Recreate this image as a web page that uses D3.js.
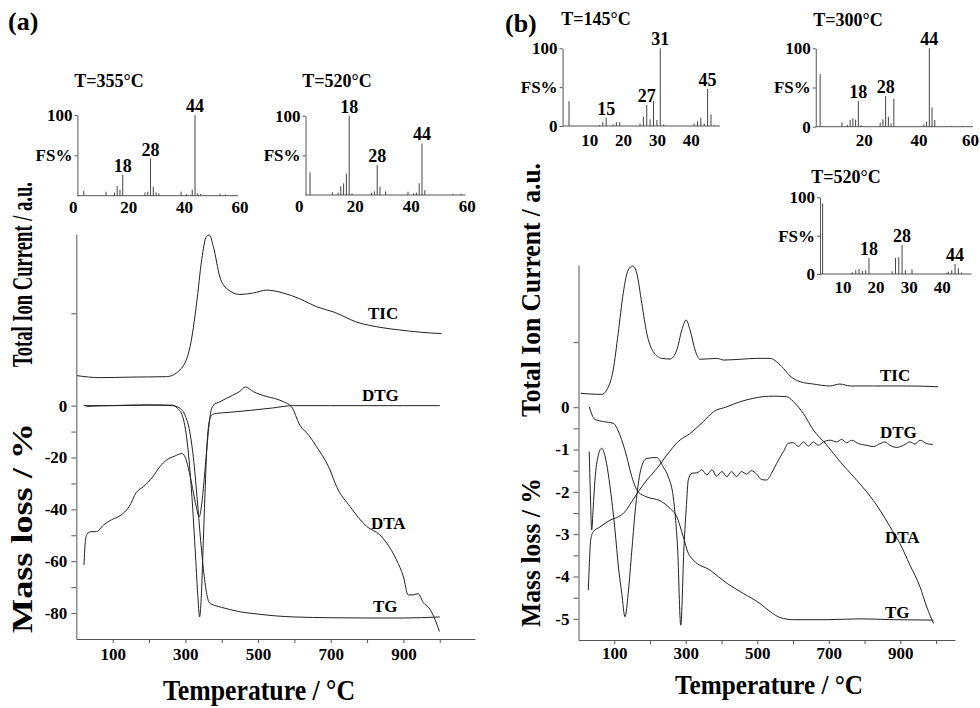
<html>
<head>
<meta http-equiv="Content-Type" content="text/html;charset=utf-8"/>
<script src="https://cdn.jsdelivr.net/npm/d3@7"></script>
<style>
  body { margin: 0; background: #fff; }
  text { font-family: "Liberation Serif", "Times New Roman", serif; font-weight: bold; fill: #000; }
  .curve { fill: none; stroke: #222; stroke-width: 1; }
  .bar { stroke: #444; stroke-width: 1; }
  .axis path, .axis line, .ibase { stroke: #555; stroke-width: 1; fill: none; }
  .axis text { font-size: 17px; }
  .peak { font-size: 18px; }
  .ititle { font-size: 18px; }
  .clabel { font-size: 17px; }
</style>
</head>
<body>
<svg id="chart" width="980" height="708"></svg>
<script>
// temperature axis
var tempTicks = [100, 200, 300, 400, 500, 600, 700, 800, 900, 1000];
var tempLabels = [100, 300, 500, 700, 900];

// panel (a): mass loss in %, TIC in a.u. (peak = 100)
var massTicksA = [-80, -70, -60, -50, -40, -30, -20, -10, 0];
var massLabelsA = [-80, -60, -40, -20, 0];
var ticTickA = [46];

var ticA = [[2,3],[65,1.6],[150,2],[248,2.3],[285,6.9],[313,23],[331,53],[345,83],[358,99],[366,100],[377,92],[395,71],[414,63],[450,59],[487,60],[524,62],[569,60],[615,56],[661,50.5],[707,47],[771,40],[844,36],[890,34.5],[945,33],[1005,32]];
var dtgA = [[24,0.3],[30,-0.4],[40,-0.2],[90,0],[200,0.3],[262,0.2],[278,-1],[292,-4],[305,-14],[318,-35],[328,-58],[335,-75],[339,-81.5],[343,-76],[348,-58],[354,-34],[360,-14],[366,-6],[374,-3.5],[385,-3],[420,-2.6],[480,-1.8],[540,-0.9],[597,0],[700,0],[800,0],[900,0],[1000,0]];
var dtaA = [[21,-61.5],[25,-52],[30,-49.5],[40,-48.6],[55,-48.6],[75,-46],[97,-44],[120,-42.5],[145,-39],[165,-33.5],[185,-31.2],[210,-27.5],[230,-23.5],[250,-20.8],[270,-19.5],[290,-18.5],[298,-19.5],[308,-24],[320,-32],[330,-39],[338,-42.8],[345,-38],[352,-28],[360,-15],[368,-4],[376,0],[395,1.5],[430,4],[450,5.5],[465,7.2],[487,5.4],[524,3.5],[545,2.8],[570,1.5],[592,-0.4],[615,-7.5],[640,-11.5],[661,-15.8],[698,-24.8],[716,-31.2],[753,-38.9],[799,-46.6],[835,-49.8],[854,-53],[881,-59.5],[900,-66],[913,-73],[927,-73],[940,-72.5],[955,-76],[973,-78.5],[987,-82.5],[999,-87.1]];
var tgA = [[20,0],[100,0],[200,0.2],[265,0],[285,-1],[300,-4],[312,-10],[322,-20],[332,-35],[342,-52],[352,-66],[360,-73.5],[366,-76],[380,-77],[400,-77.8],[450,-79.5],[500,-80.4],[550,-81.1],[600,-81.5],[700,-81.8],[800,-81.9],[900,-81.9],[1000,-81.5]];

// panel (b)
var massTicksB = [-5, -4.5, -4, -3.5, -3, -2.5, -2, -1.5, -1, -0.5, 0];
var massLabelsB = [-5, -4, -3, -2, -1, 0];
var ticTickB = [41];

var ticB = [[6,1.3],[32,0.8],[65,0.5],[79,3.9],[97,19.4],[111,47.8],[125,78.8],[139,96.9],[152,100],[163,94.3],[177,71],[191,47.8],[209,33.6],[233,28.4],[256,27.9],[275,34.9],[289,50.4],[301,58.1],[312,50.4],[326,34.9],[340,27.7],[387,28.4],[406,27.1],[452,27.7],[498,28.4],[536,28.4],[554,25.8],[573,20.7],[592,14.7],[620,10.3],[657,8.5],[703,7],[731,8.5],[760,7],[825,7],[918,7],[1006,6.4]];
var dtgB = [[30,-1.05],[33,-2.0],[37,-2.9],[41,-2.4],[46,-1.72],[55,-1.15],[65,-0.97],[74,-1.15],[83,-1.56],[93,-2.2],[102,-2.9],[112,-3.8],[121,-4.4],[130,-4.95],[139,-4.4],[149,-3.4],[158,-2.5],[172,-1.56],[181,-1.3],[191,-1.21],[219,-1.19],[237,-1.41],[251,-1.64],[265,-2.12],[271,-2.6],[277,-3.3],[286,-5.15],[295,-3.3],[302,-2.3],[307,-1.72],[317,-1.56],[331,-1.55],[345,-1.48],[359,-1.6],[373,-1.48],[386,-1.63],[401,-1.52],[415,-1.64],[428,-1.52],[442,-1.64],[456,-1.52],[470,-1.58],[484,-1.5],[498,-1.58],[512,-1.71],[526,-1.72],[540,-1.56],[554,-1.33],[573,-1.05],[587,-0.85],[601,-0.84],[615,-0.93],[629,-0.82],[643,-0.92],[657,-0.82],[671,-0.9],[685,-0.82],[704,-0.78],[722,-0.82],[736,-0.76],[750,-0.84],[764,-0.78],[783,-0.86],[806,-0.9],[825,-0.93],[843,-0.86],[857,-0.82],[871,-0.9],[890,-0.95],[909,-0.9],[927,-0.82],[941,-0.87],[955,-0.78],[974,-0.86],[991,-0.88]];
var dtaB = [[27.5,-4.32],[30,-3.77],[34,-3.14],[41.5,-2.94],[60,-2.83],[88,-2.67],[111,-2.59],[130,-2.47],[149,-2.23],[167,-2.0],[191,-1.72],[219,-1.45],[247,-1.13],[279,-0.81],[312,-0.62],[349,-0.34],[377,-0.11],[415,0.01],[452,0.13],[489,0.21],[517,0.25],[545,0.26],[582,0.25],[601,0.13],[629,-0.15],[657,-0.54],[694,-0.89],[732,-1.29],[769,-1.64],[806,-2.0],[843,-2.43],[871,-2.82],[899,-3.22],[927,-3.73],[955,-4.24],[974,-4.72],[993,-5.11]];
var tgB = [[30,0.01],[46,-0.29],[70,-0.34],[97,-0.38],[116,-0.66],[135,-1.17],[149,-1.64],[167,-2.0],[191,-2.12],[228,-2.21],[256,-2.39],[275,-2.59],[293,-3.06],[307,-3.45],[321,-3.61],[368,-3.85],[415,-4.16],[461,-4.4],[508,-4.64],[536,-4.83],[564,-4.97],[601,-5.02],[694,-5.02],[787,-5.0],[881,-5.02],[993,-5.03]];

// mass spectra: [m/z, FS%]
var msA355 = [[4,5.8],[12,5],[15,4],[16,12],[17,7.5],[18,26],[26,4],[27,5],[28,46],[29,11],[30,4],[31,3],[39,5],[41,2],[43,7.5],[44,100],[45,3],[46,2],[53,2.5],[55,1.5],[58,1]];
var msA520 = [[4,28.6],[12,3.4],[14,3],[15,11],[16,14.7],[17,27],[18,100],[19,2],[26,3],[27,4.5],[28,38],[29,10.5],[31,4.5],[39,4],[41,2],[42,3],[43,14.7],[44,65],[45,6],[55,1.5],[58,1.5]];
var msB145 = [[4,32],[13,1],[14,5],[15,10.7],[17,2],[18,5],[19,5],[25,3],[26,12],[27,27],[28,8.6],[29,32],[30,7.7],[31,100],[32,2],[41,3],[42,6],[43,10.6],[44,3],[45,47.6],[46,15],[47,1]];
var msB300 = [[4,67],[12,5.5],[14,2.5],[15,8.5],[16,10.6],[17,9],[18,33],[19,2],[26,5],[27,9.4],[28,39],[29,12.7],[30,4],[31,36],[42,3],[43,6.4],[44,100],[45,24.7],[46,8.5],[52,1],[56,1]];
var msB520 = [[4,92],[12.6,1],[13,2],[14,5],[15,6.5],[16,4],[17,5],[18,21],[25,3.5],[26,21],[27,22],[28,38],[29,5],[31,6],[41.5,1.5],[42,3],[43,5],[44,13],[45,7.5],[46,2]];

var peaksA355 = [18, 28, 44];
var peaksA520 = [18, 28, 44];
var peaksB145 = [15, 27, 31, 45];
var peaksB300 = [18, 28, 44];
var peaksB520 = [18, 28, 44];

var svg = d3.select('#chart');

function mainPanel(p) {
  var x = d3.scaleLinear().domain([0, p.tMax]).range([p.left, p.right]);
  var y = d3.scaleLinear().domain(p.massDomain).range([p.bottom, p.top]);
  var yTic = d3.scaleLinear().domain([0, 100]).range(p.ticRange);
  var g = svg.append('g');

  g.append('g').attr('class', 'axis').attr('transform', 'translate(0,' + p.bottom + ')')
    .call(d3.axisBottom(x).tickValues(tempTicks).tickSize(4).tickPadding(p.xPad).tickSizeOuter(0)
      .tickFormat(function(d) { return tempLabels.indexOf(d) >= 0 ? d : ''; }));

  g.append('g').attr('class', 'axis').attr('transform', 'translate(' + p.left + ',0)')
    .call(d3.axisLeft(y).tickValues(p.massTicks).tickSize(5).tickPadding(4).tickSizeOuter(0)
      .tickFormat(function(d) { return p.massLabels.indexOf(d) >= 0 ? d : ''; }));

  // lone tick on the TIC part of the axis
  var t = g.append('g').attr('class', 'axis').attr('transform', 'translate(' + p.left + ',0)')
    .call(d3.axisLeft(yTic).tickValues(p.ticTicks).tickSize(5).tickFormat(''));
  t.select('.domain').remove();

  g.selectAll('.axis').attr('font-family', null).attr('font-size', null);

  var lineMass = d3.line().x(function(d) { return x(d[0]); }).y(function(d) { return y(d[1]); }).curve(d3.curveMonotoneX);
  var lineTic = d3.line().x(function(d) { return x(d[0]); }).y(function(d) { return yTic(d[1]); }).curve(d3.curveMonotoneX);

  g.append('path').attr('class', 'curve').attr('d', lineTic(p.tic));
  [p.dtg, p.dta, p.tg].forEach(function(s) {
    g.append('path').attr('class', 'curve').attr('d', lineMass(s));
  });

  p.names.forEach(function(n) {
    g.append('text').attr('class', 'clabel').attr('x', n[1]).attr('y', n[2]).text(n[0]);
  });

  // axis titles
  g.append('text').attr('x', p.xTitle[0]).attr('y', p.xTitle[1])
    .attr('text-anchor', 'middle').style('font-size', p.xTitle[2] + 'px')
    .attr('textLength', p.xTitle[3]).attr('lengthAdjust', 'spacingAndGlyphs')
    .text('Temperature / °C');
  p.yTitles.forEach(function(tt) {
    g.append('text').attr('transform', 'translate(' + tt[1] + ',' + tt[2] + ') rotate(-90)')
      .attr('text-anchor', 'middle').style('font-size', tt[3] + 'px')
      .attr('textLength', tt[4]).attr('lengthAdjust', 'spacingAndGlyphs')
      .text(tt[0]);
  });
}

function inset(c) {
  var x = d3.scaleLinear().domain([0, 60]).range([c.x0, c.x0 + 60 * c.k]);
  var y = d3.scaleLinear().domain([0, 100]).range([c.base, c.top]);
  var g = svg.append('g');

  g.append('line').attr('class', 'ibase')
    .attr('x1', x(c.from)).attr('x2', x(c.to)).attr('y1', y(0)).attr('y2', y(0));

  g.selectAll('line.bar').data(c.data).enter().append('line').attr('class', 'bar')
    .attr('x1', function(d) { return x(d[0]); }).attr('x2', function(d) { return x(d[0]); })
    .attr('y1', y(0)).attr('y2', function(d) { return y(d[1]); });

  g.append('g').attr('class', 'axis').attr('transform', 'translate(' + x(c.from) + ',0)')
    .call(d3.axisLeft(y).tickValues(c.fsTicks).tickSize(3).tickPadding(2).tickSizeOuter(0)
      .tickFormat(function(d) { return d === 50 ? 'FS%' : d; }));

  var xa = g.append('g').attr('class', 'axis').attr('transform', 'translate(0,' + c.base + ')')
    .call(d3.axisBottom(x).tickValues(c.mzTicks).tickSize(0).tickPadding(c.pad));
  xa.select('.domain').remove();
  // keep the last label inside the page edge
  xa.selectAll('text').attr('dx', function(d) { return x(d) + 9 > 979 ? (970 - x(d)) : 0; });
  g.selectAll('.axis').attr('font-family', null).attr('font-size', null);

  c.peaks.forEach(function(m) {
    var d = c.data.filter(function(b) { return b[0] === m; })[0];
    g.append('text').attr('class', 'peak').attr('text-anchor', 'middle')
      .attr('x', x(m)).attr('y', y(d[1]) - 3).text(m);
  });

  g.append('text').attr('class', 'ititle').attr('text-anchor', 'middle')
    .attr('x', c.title[1]).attr('y', c.title[2]).text(c.title[0]);
}

mainPanel({
  left: 76.35, right: 475, tMax: 1097, bottom: 639, top: 234,
  massDomain: [-90, 66.2], ticRange: [380, 235], xPad: 5,
  massTicks: massTicksA, massLabels: massLabelsA, ticTicks: ticTickA,
  tic: ticA, dtg: dtgA, dta: dtaA, tg: tgA,
  names: [['TIC', 368, 319], ['DTG', 362, 401], ['DTA', 371, 529], ['TG', 373, 612]],
  xTitle: [259, 700, 30, 192],
  yTitles: [['Total Ion Current / a.u.', 32, 274.5, 30, 185], ['Mass loss / %', 32, 528, 30, 210]]
});

mainPanel({
  left: 578.5, right: 955, tMax: 1053, bottom: 640, top: 265,
  massDomain: [-5.5, 3.36], ticRange: [395, 266], xPad: 3,
  massTicks: massTicksB, massLabels: massLabelsB, ticTicks: ticTickB,
  tic: ticB, dtg: dtgB, dta: dtaB, tg: tgB,
  names: [['TIC', 880, 381], ['DTG', 880, 438], ['DTA', 885, 543], ['TG', 885, 618]],
  xTitle: [769, 694, 28, 188],
  yTitles: [['Total Ion Current / a.u.', 540, 290, 28, 254], ['Mass loss / %', 540, 552.5, 28, 149]]
});

inset({ x0: 72.7, k: 2.78, from: 1.7, to: 59.5, base: 195.7, top: 115, pad: 5,
  fsTicks: [50, 100], mzTicks: [0, 20, 40, 60], data: msA355, peaks: peaksA355, title: ['T=355°C', 109, 87] });
inset({ x0: 298.8, k: 2.8, from: 2.4, to: 59.5, base: 195, top: 115.7, pad: 5,
  fsTicks: [50, 100], mzTicks: [0, 20, 40, 60], data: msA520, peaks: peaksA520, title: ['T=520°C', 337, 87] });
inset({ x0: 555.5, k: 3.38, from: 2.1, to: 48.6, base: 126, top: 48.3, pad: 8,
  fsTicks: [0, 50, 100], mzTicks: [10, 20, 30, 40], data: msB145, peaks: peaksB145, title: ['T=145°C', 596, 25] });
inset({ x0: 809.2, k: 2.73, from: 2.4, to: 60, base: 126.7, top: 48.3, pad: 7,
  fsTicks: [0, 50, 100], mzTicks: [20, 40, 60], data: msB300, peaks: peaksB300, title: ['T=300°C', 848, 26] });
inset({ x0: 809.4, k: 3.31, from: 3.2, to: 49, base: 274, top: 197.3, pad: 7,
  fsTicks: [0, 50, 100], mzTicks: [10, 20, 30, 40], data: msB520, peaks: peaksB520, title: ['T=520°C', 846, 183] });

svg.append('text').attr('x', 8).attr('y', 30).style('font-size', '26px').text('(a)');
svg.append('text').attr('x', 505).attr('y', 32).style('font-size', '26px').text('(b)');
</script>
</body>
</html>
